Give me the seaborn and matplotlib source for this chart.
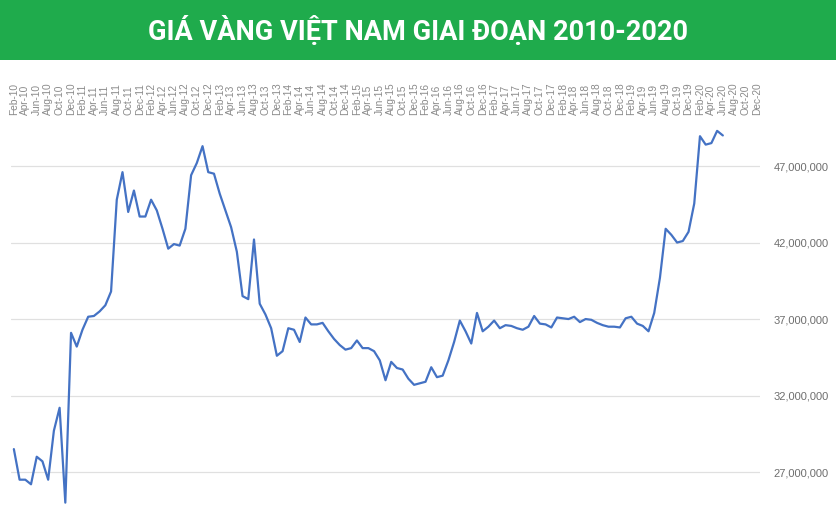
import numpy as np
import pandas as pd
import seaborn as sns
import matplotlib.pyplot as plt
from matplotlib.patches import Rectangle
from matplotlib.ticker import FuncFormatter

TITLE = "GIÁ VÀNG VIỆT NAM GIAI ĐOẠN 2010-2020"

# monthly axis Feb-10 .. Dec-20, labels every other month
months = pd.date_range("2010-02-01", "2020-12-01", freq="MS")
month_labels = [m.strftime("%b-%y") for m in months]

# gold price, million VND, Feb-10 .. Jun-20
gia_trieu = [
    28.5, 26.5, 26.5, 26.2, 28.0, 27.7, 26.5, 29.7, 31.2, 25.0,
    36.1, 35.2, 36.3, 37.15, 37.2, 37.5, 37.9, 38.8, 44.8, 46.6,
    44.0, 45.4, 43.7, 43.7, 44.8, 44.1, 42.9, 41.6, 41.9, 41.8,
    42.9, 46.4, 47.2, 48.3, 46.6, 46.5, 45.2, 44.1, 43.0, 41.4,
    38.5, 38.3, 42.2, 38.0, 37.3, 36.4, 34.6, 34.9, 36.4, 36.3,
    35.5, 37.1, 36.65, 36.65, 36.75, 36.2, 35.7, 35.3, 35.0, 35.1,
    35.6, 35.1, 35.1, 34.9, 34.3, 33.0, 34.2, 33.8, 33.7, 33.1,
    32.7, 32.8, 32.9, 33.85, 33.2, 33.3, 34.3, 35.5, 36.9, 36.2,
    35.4, 37.4, 36.2, 36.5, 36.9, 36.4, 36.6, 36.55, 36.4, 36.3,
    36.5, 37.2, 36.7, 36.65, 36.45, 37.1, 37.05, 37.0, 37.15, 36.8,
    37.0, 36.95, 36.75, 36.6, 36.5, 36.5, 36.45, 37.05, 37.15, 36.7,
    36.55, 36.2, 37.4, 39.7, 42.9, 42.5, 42.0, 42.1, 42.7, 44.55,
    48.95, 48.4, 48.5, 49.3, 49.0,
]

y_ticks = [27_000_000, 32_000_000, 37_000_000, 42_000_000, 47_000_000]

df = pd.DataFrame({
    "idx": np.arange(len(gia_trieu)),
    "gia": np.array(gia_trieu) * 1e6,
})

sns.set_theme(style="white")
plt.rcParams["font.family"] = ["Roboto", "DejaVu Sans"]

fig = plt.figure(figsize=(8.36, 5.21), dpi=100)
W, H = 836, 521

# green header band
fig.patches.append(Rectangle((0, (H - 60) / H), 1, 60 / H, transform=fig.transFigure,
                             facecolor="#1fab4c", edgecolor="none", zorder=0))
fig.text(0.5, (H - 31) / H, TITLE, ha="center", va="center", color="white",
         fontsize=19.5, fontweight="bold")

ax = fig.add_axes([11 / W, 0, (760 - 11) / W, (H - 118) / H])
sns.lineplot(data=df, x="idx", y="gia", ax=ax, color="#4472c4", linewidth=1.6)

ax.set_xlim(-0.5, len(months) - 0.5)
ax.set_ylim(23.8e6, 50.14e6)
ax.set_xlabel("")
ax.set_ylabel("")

ax.set_xticks(np.arange(0, len(months), 2))
ax.set_xticklabels(month_labels[::2], rotation=90, fontsize=7.3, color="#8a8a8a",
                   family=["Liberation Sans", "DejaVu Sans"])
ax.xaxis.tick_top()
ax.tick_params(axis="x", length=0, pad=2)

ax.set_yticks(y_ticks)
ax.yaxis.tick_right()
ax.yaxis.set_major_formatter(FuncFormatter(lambda v, p: f"{v:,.0f}"))
ax.tick_params(axis="y", length=0, pad=10, labelsize=8, labelcolor="#6e6e6e")
for lbl in ax.get_yticklabels():
    lbl.set_family(["Liberation Sans", "DejaVu Sans"])

ax.grid(axis="y", color="#e0e0e0", linewidth=0.9)
ax.grid(axis="x", visible=False)
for s in ax.spines.values():
    s.set_visible(False)

fig.savefig("out.png", dpi=100)
